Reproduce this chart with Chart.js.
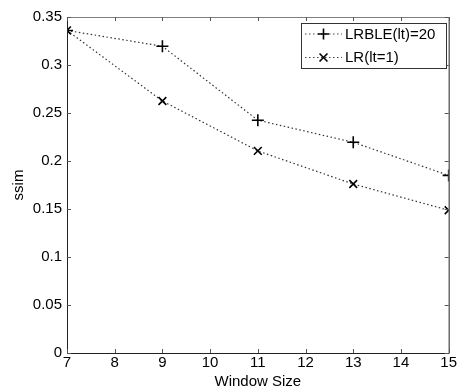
<!DOCTYPE html>
<html>
<head>
<meta charset="utf-8">
<script src="https://cdn.jsdelivr.net/npm/chart.js@4/dist/chart.umd.min.js"></script>
<style>
html,body{margin:0;padding:0;background:#fff;}
#wrap{width:458px;height:391px;}
</style>
</head>
<body>
<div id="wrap"><canvas id="c" width="458" height="391"></canvas></div>
<script>
// ---- data ----
const windowSizes = [7, 9, 11, 13, 15];
const seriesNames = ['LRBLE(lt)=20', 'LR(lt=1)'];
const lrbleValues = [0.336, 0.3195, 0.2425, 0.2195, 0.185];
const lrValues = [0.336, 0.2625, 0.2105, 0.176, 0.1487];
const xTickValues = [7, 8, 9, 10, 11, 12, 13, 14, 15];
const xTickLabels = ['7', '8', '9', '10', '11', '12', '13', '14', '15'];
const yTickValues = [0, 0.05, 0.1, 0.15, 0.2, 0.25, 0.3, 0.35];
const yTickLabels = ['0', '0.05', '0.1', '0.15', '0.2', '0.25', '0.3', '0.35'];
const xTitle = 'Window Size';
const yTitle = 'ssim';

const FONT = "'Liberation Sans', Arial, sans-serif";

function toPts(xs, ys) { return xs.map((x, i) => ({x: x, y: ys[i]})); }

function drawMarker(ctx, style, x, y, r) {
  ctx.beginPath();
  if (style === 'cross') {
    ctx.moveTo(x - r, y); ctx.lineTo(x + r, y);
    ctx.moveTo(x, y - r); ctx.lineTo(x, y + r);
  } else {
    const d = r * 0.72;
    ctx.moveTo(x - d, y - d); ctx.lineTo(x + d, y + d);
    ctx.moveTo(x + d, y - d); ctx.lineTo(x - d, y + d);
  }
  ctx.stroke();
}

const boxPlugin = {
  id: 'matlabBox',
  afterDraw(chart) {
    const ctx = chart.ctx;
    const a = chart.chartArea;
    const xs = chart.scales.x, ys = chart.scales.y;
    ctx.save();
    ctx.lineWidth = 1;
    // box
    ctx.strokeStyle = '#222';
    ctx.beginPath();
    ctx.moveTo(a.left + 0.5, a.top);
    ctx.lineTo(a.left + 0.5, a.bottom + 0.5);
    ctx.lineTo(a.right + 0.5, a.bottom + 0.5);
    ctx.lineTo(a.right + 0.5, a.top);
    ctx.stroke();
    ctx.strokeStyle = '#808080';
    ctx.beginPath();
    ctx.moveTo(a.left, a.top + 0.5);
    ctx.lineTo(a.right + 1, a.top + 0.5);
    ctx.stroke();
    // inner ticks
    const tl = 4;
    ctx.strokeStyle = '#555';
    ctx.beginPath();
    xTickValues.forEach(v => {
      const px = Math.round(xs.getPixelForValue(v)) + 0.5;
      ctx.moveTo(px, a.bottom); ctx.lineTo(px, a.bottom - tl);
      ctx.moveTo(px, a.top); ctx.lineTo(px, a.top + tl);
    });
    yTickValues.forEach(v => {
      const py = Math.round(ys.getPixelForValue(v)) + 0.5;
      ctx.moveTo(a.left, py); ctx.lineTo(a.left + tl, py);
      ctx.moveTo(a.right, py); ctx.lineTo(a.right - tl, py);
    });
    ctx.stroke();

    // legend
    const lx = 301, ly = 23, lw = 145, lh = 45;
    ctx.fillStyle = '#fff';
    ctx.fillRect(lx, ly, lw, lh);
    ctx.strokeStyle = '#333';
    ctx.strokeRect(lx + 0.5, ly + 0.5, lw, lh);
    const rows = [34, 57.5];
    chart.data.datasets.forEach((ds, i) => {
      const y = rows[i];
      ctx.strokeStyle = '#444';
      ctx.lineWidth = 1.2;
      ctx.setLineDash([1.5, 2.5]);
      ctx.beginPath();
      ctx.moveTo(305, y); ctx.lineTo(342, y);
      ctx.stroke();
      ctx.setLineDash([]);
      ctx.strokeStyle = '#000';
      ctx.lineWidth = 1.6;
      drawMarker(ctx, ds.pointStyle, 323.5, y, 5.5);
      ctx.fillStyle = '#000';
      ctx.font = '15px ' + FONT;
      ctx.textBaseline = 'middle';
      ctx.textAlign = 'left';
      ctx.fillText(ds.label, 345, y + 0.5);
    });
    ctx.restore();
  }
};

new Chart(document.getElementById('c'), {
  type: 'line',
  data: {
    datasets: [
      {
        label: seriesNames[0],
        data: toPts(windowSizes, lrbleValues),
        borderColor: '#333',
        borderWidth: 1.2,
        borderDash: [1.5, 2.5],
        pointStyle: 'cross',
        pointRadius: 6,
        pointBorderWidth: 1.6,
        pointBorderColor: '#000',
        pointBackgroundColor: '#000',
        fill: false,
        tension: 0
      },
      {
        label: seriesNames[1],
        data: toPts(windowSizes, lrValues),
        borderColor: '#333',
        borderWidth: 1.2,
        borderDash: [1.5, 2.5],
        pointStyle: 'crossRot',
        pointRadius: 5.5,
        pointBorderWidth: 1.6,
        pointBorderColor: '#000',
        pointBackgroundColor: '#000',
        fill: false,
        tension: 0
      }
    ]
  },
  options: {
    responsive: false,
    devicePixelRatio: 1,
    animation: false,
    layout: { padding: { top: 17, right: 9, left: 0, bottom: 0 } },
    plugins: { legend: { display: false }, tooltip: { enabled: false } },
    scales: {
      x: {
        type: 'linear',
        min: 7, max: 15,
        afterBuildTicks(s) { s.ticks = xTickValues.map(v => ({value: v})); },
        afterFit(s) { s.height = 38; },
        grid: { display: false, drawTicks: false },
        border: { display: false },
        ticks: {
          autoSkip: false, maxRotation: 0, padding: 1,
          color: '#000',
          font: { family: FONT, size: 15 },
          callback: (v) => { const i = xTickValues.indexOf(v); return i >= 0 ? xTickLabels[i] : ''; }
        },
        title: {
          display: true, text: xTitle, color: '#000',
          font: { family: FONT, size: 15, lineHeight: 1.2 },
          padding: { top: 0, bottom: 0 }
        }
      },
      y: {
        type: 'linear',
        min: 0, max: 0.35,
        afterBuildTicks(s) { s.ticks = yTickValues.map(v => ({value: v})); },
        afterFit(s) { s.width = 67; },
        grid: { display: false, drawTicks: false },
        border: { display: false },
        ticks: {
          autoSkip: false, padding: 5,
          color: '#000',
          font: { family: FONT, size: 15 },
          callback: (v) => {
            const i = yTickValues.findIndex(t => Math.abs(t - v) < 1e-9);
            return i >= 0 ? yTickLabels[i] : '';
          }
        },
        title: {
          display: true, text: yTitle, color: '#000',
          font: { family: FONT, size: 15, lineHeight: 1.2 },
          padding: { top: 10, bottom: 0 }
        }
      }
    }
  },
  plugins: [boxPlugin]
});
</script>
</body>
</html>
